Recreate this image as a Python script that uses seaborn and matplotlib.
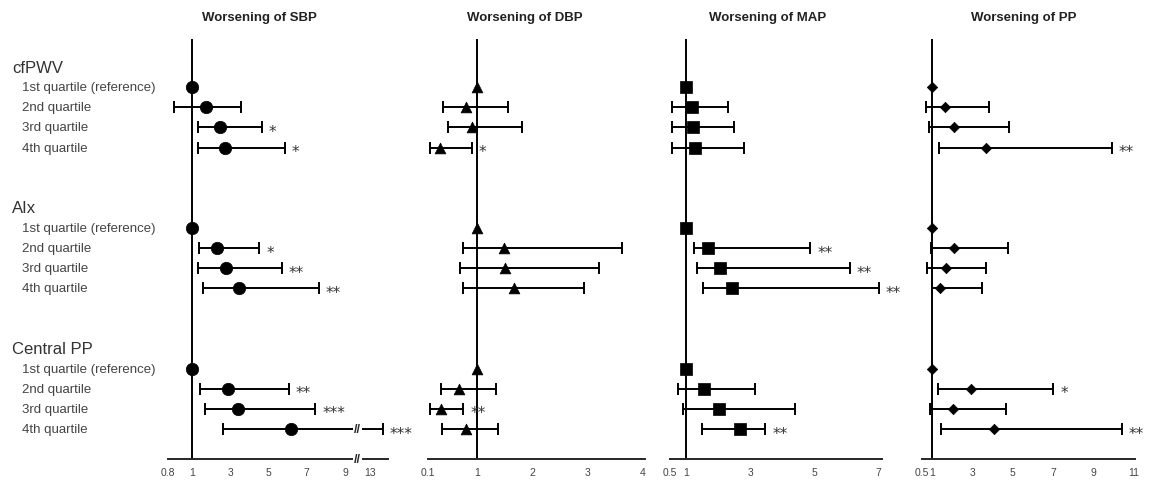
import numpy as np
import pandas as pd
import matplotlib
matplotlib.use("Agg")
import matplotlib.pyplot as plt
import seaborn as sns
from matplotlib.transforms import blended_transform_factory

nan = np.nan

groups = ["cfPWV", "AIx", "Central PP"]
quartiles = ["1st quartile (reference)", "2nd quartile", "3rd quartile", "4th quartile"]
titles = ["Worsening of SBP", "Worsening of DBP", "Worsening of MAP", "Worsening of PP"]

# odds ratios and 95% CI, order: cfPWV Q1-Q4, AIx Q1-Q4, Central PP Q1-Q4
sbp_or = [1, 1.76, 2.46, 2.76, 1, 2.33, 2.80, 3.46, 1, 2.90, 3.43, 6.18]
sbp_lo = [nan, 0.85, 1.31, 1.31, nan, 1.36, 1.34, 1.57, nan, 1.41, 1.71, 2.64]
sbp_hi = [nan, 3.59, 4.66, 5.87, nan, 4.52, 5.69, 7.64, nan, 6.06, 7.45, 15.1]
sbp_sig = ["", "", "*", "*", "", "*", "**", "**", "", "**", "***", "***"]

dbp_or = [1, 0.79, 0.91, 0.32, 1, 1.49, 1.50, 1.66, 1, 0.67, 0.34, 0.80]
dbp_lo = [nan, 0.38, 0.46, 0.14, nan, 0.73, 0.69, 0.73, nan, 0.34, 0.14, 0.35]
dbp_hi = [nan, 1.55, 1.81, 0.90, nan, 3.64, 3.22, 2.94, nan, 1.34, 0.74, 1.37]
dbp_sig = ["", "", "", "*", "", "", "", "", "", "", "**", ""]

map_or = [1, 1.20, 1.23, 1.27, 1, 1.69, 2.06, 2.44, 1, 1.56, 2.03, 2.69]
map_lo = [nan, 0.57, 0.57, 0.55, nan, 1.25, 1.34, 1.53, nan, 0.75, 0.90, 1.50]
map_hi = [nan, 2.31, 2.50, 2.81, nan, 4.87, 6.10, 7.00, nan, 3.16, 4.40, 3.47]
map_sig = ["", "", "", "", "", "**", "**", "**", "", "", "", "**"]

pp_or = [1, 1.65, 2.10, 3.65, 1, 2.10, 1.70, 1.40, 1, 2.95, 2.05, 4.05]
pp_lo = [nan, 0.70, 0.85, 1.35, nan, 0.95, 0.75, 1.00, nan, 1.30, 0.90, 1.45]
pp_hi = [nan, 3.80, 4.80, 9.90, nan, 4.75, 3.65, 3.45, nan, 7.00, 4.65, 10.4]
pp_sig = ["", "", "", "**", "", "", "", "", "", "*", "", "**"]

sbp_ticks = [0.8, 1, 3, 5, 7, 9, 13]
dbp_ticks = [0.1, 1, 2, 3, 4]
map_ticks = [0.5, 1, 3, 5, 7]
pp_ticks = [0.5, 1, 3, 5, 7, 9, 11]

sns.set_style("white")
plt.rcParams["font.family"] = ["Liberation Sans", "DejaVu Sans"]

W, H = 1150, 481
fig = plt.figure(figsize=(W / 100, H / 100), dpi=100)

# row positions: one slot per quartile, 7 slots per group
ypos = np.array([g * 7 + q for g in range(len(groups)) for q in range(len(quartiles))])


def piecewise(xp, fp):
    xp = np.asarray(xp, float)
    fp = np.asarray(fp, float)

    def f(x):
        x = np.asarray(x, float)
        y = np.interp(x, xp, fp)
        y = np.where(x < xp[0], fp[0] + (x - xp[0]) * (fp[1] - fp[0]) / (xp[1] - xp[0]), y)
        y = np.where(x > xp[-1], fp[-1] + (x - xp[-1]) * (fp[-1] - fp[-2]) / (xp[-1] - xp[-2]), y)
        return y
    return f


# broken SBP axis (0.8 | 1..9 // 13..)
sbp_v = [0.8, 1, 9, 13, 16]
sbp_p = [0, 23.5, 175.5, 200, 218]

panels = [
    (sbp_or, sbp_lo, sbp_hi, sbp_sig, sbp_ticks, "o", 80, (168, 388), (0.8, 16)),
    (dbp_or, dbp_lo, dbp_hi, dbp_sig, dbp_ticks, "^", 60, (428, 645), (0.1, 4.05)),
    (map_or, map_lo, map_hi, map_sig, map_ticks, "s", 64, (670, 882), (0.5, 7.1)),
    (pp_or, pp_lo, pp_hi, pp_sig, pp_ticks, "D", 28, (922, 1135), (0.5, 11.05)),
]
title_x = [259, 525, 768, 1024]

axes = []
for i, (orr, lo, hi, sig, ticks, mk, ms, (x0, x1), xlim) in enumerate(panels):
    ax = fig.add_axes([x0 / W, (H - 460) / H, (x1 - x0) / W, 420 / H])
    axes.append(ax)
    if i == 0:
        ax.set_xscale("function", functions=(piecewise(sbp_v, sbp_p), piecewise(sbp_p, sbp_v)))
    orr = np.array(orr)
    lo = np.array(lo)
    hi = np.array(hi)
    df = pd.DataFrame({"or": orr, "y": ypos})

    ax.axvline(1, color="black", lw=1.4, zorder=1)
    ax.errorbar(orr, ypos, xerr=[orr - lo, hi - orr], fmt="none", ecolor="black",
                elinewidth=1.4, capsize=4, capthick=1.4, zorder=2)
    sns.scatterplot(data=df, x="or", y="y", marker=mk, s=ms, color="black",
                    edgecolor="black", linewidth=0.5, ax=ax, zorder=3, legend=False)
    for h, yy, s in zip(hi, ypos, sig):
        if s:
            ax.annotate(s, xy=(h, yy), xytext=(5, -3), textcoords="offset points",
                        ha="left", va="center", fontsize=11, color="#333333",
                        family="DejaVu Sans")

    ax.set_xlim(*xlim)
    ax.set_ylim(18.5, -2.4)
    ax.set_xticks(ticks)
    ax.set_xticklabels([f"{t:g}" for t in ticks])
    ax.set_yticks([])
    ax.set_xlabel("")
    ax.set_ylabel("")
    sns.despine(ax=ax, left=True)
    ax.spines["bottom"].set_linewidth(1.4)
    ax.tick_params(axis="x", length=4, width=1.2, direction="out", labelsize=7.5,
                   labelcolor="#444444", pad=2)
    fig.text(title_x[i] / W, (H - 18) / H, titles[i], ha="center", va="center",
             fontsize=9.5, fontweight="bold", color="#222222")

# break marks on SBP axis and on the long CI
ax0 = axes[0]
brk = 11.0
bt = blended_transform_factory(ax0.transData, ax0.transAxes)
ax0.text(brk, 0, "//", transform=bt, ha="center", va="center", fontsize=9,
         fontweight="bold", bbox=dict(facecolor="white", edgecolor="none", pad=0.5), clip_on=False)
ax0.text(brk, ypos[-1], "//", ha="center", va="center", fontsize=9, fontweight="bold",
         bbox=dict(facecolor="white", edgecolor="none", pad=0.5))

# row labels on the left
lt = blended_transform_factory(fig.transFigure, ax0.transData)
for g, name in enumerate(groups):
    ax0.text(12 / W, g * 7 - 1, name, transform=lt, ha="left", va="center",
             fontsize=12, color="#333333", clip_on=False)
    for q, lab in enumerate(quartiles):
        ax0.text(22 / W, g * 7 + q, lab, transform=lt, ha="left", va="center",
                 fontsize=9.5, color="#444444", clip_on=False)

fig.savefig("out.png", dpi=100)
